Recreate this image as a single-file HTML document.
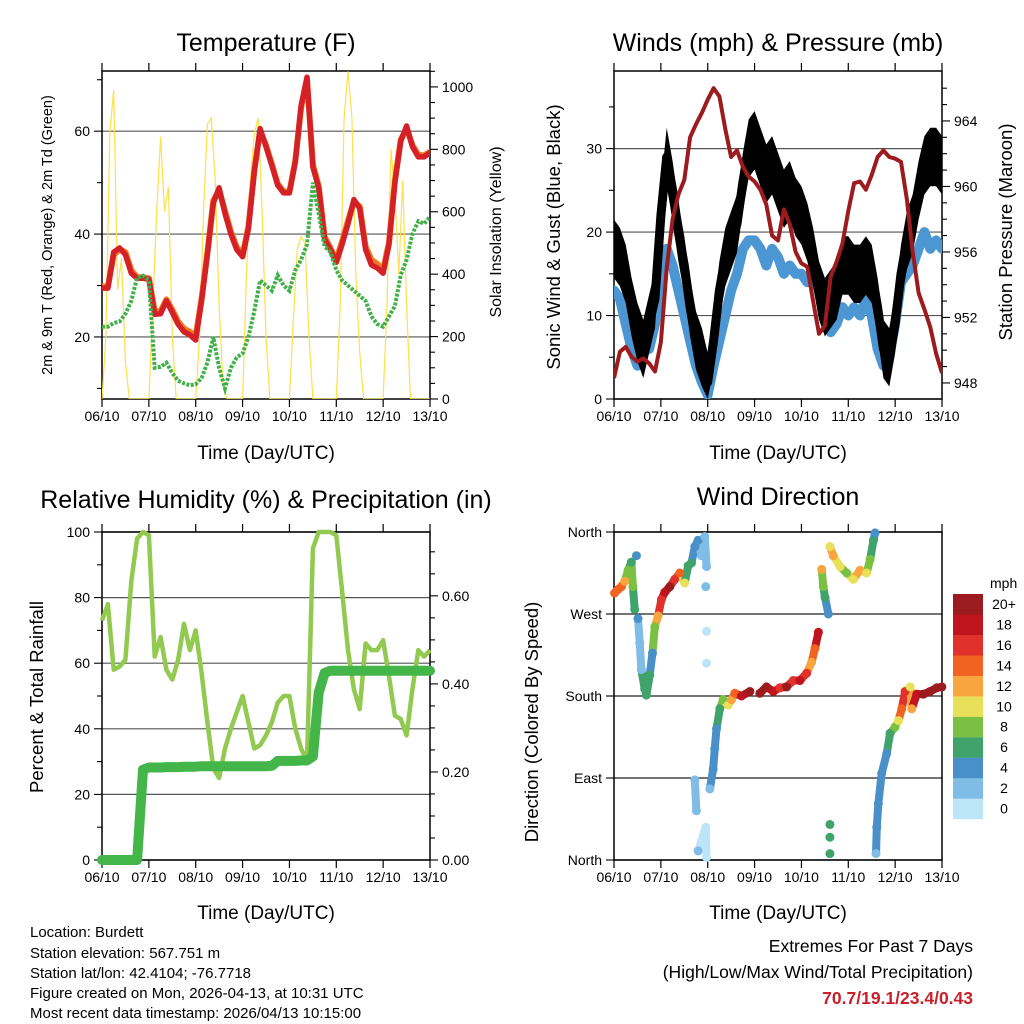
<!DOCTYPE html>
<html><head><meta charset="utf-8">
<style>
html,body{margin:0;padding:0;background:#fff;}
svg{display:block;font-family:"Liberation Sans",Arial,sans-serif;}
</style></head>
<body>
<svg id="fig" width="1024" height="1024" viewBox="0 0 1024 1024" xmlns="http://www.w3.org/2000/svg">
<rect x="0" y="0" width="1024" height="1024" fill="#fff"/>
<text x="266" y="51" font-size="25" text-anchor="middle">Temperature (F)</text>
<text x="778" y="51" font-size="25" text-anchor="middle">Winds (mph) &amp; Pressure (mb)</text>
<text x="266" y="508" font-size="25" text-anchor="middle">Relative Humidity (%) &amp; Precipitation (in)</text>
<text x="778" y="505" font-size="25" text-anchor="middle">Wind Direction</text>

<text x="266" y="459" font-size="19" text-anchor="middle">Time (Day/UTC)</text>
<text x="778" y="459" font-size="19" text-anchor="middle">Time (Day/UTC)</text>
<text x="266" y="919" font-size="19" text-anchor="middle">Time (Day/UTC)</text>
<text x="778" y="919" font-size="19" text-anchor="middle">Time (Day/UTC)</text>

<text transform="translate(48,235) rotate(-90)" font-size="14.5" text-anchor="middle" dominant-baseline="middle">2m &amp; 9m T (Red, Orange) &amp; 2m Td (Green)</text>
<text transform="translate(497,232) rotate(-90)" font-size="16" text-anchor="middle" dominant-baseline="middle">Solar Insolation (Yellow)</text>
<text transform="translate(555,237) rotate(-90)" font-size="18.5" text-anchor="middle" dominant-baseline="middle">Sonic Wind &amp; Gust (Blue, Black)</text>
<text transform="translate(1007,232) rotate(-90)" font-size="18.5" text-anchor="middle" dominant-baseline="middle">Station Pressure (Maroon)</text>
<text transform="translate(38,697) rotate(-90)" font-size="18.5" text-anchor="middle" dominant-baseline="middle">Percent &amp; Total Rainfall</text>
<text transform="translate(533,722) rotate(-90)" font-size="18.5" text-anchor="middle" dominant-baseline="middle">Direction (Colored By Speed)</text>

<g font-size="15">
<text x="30" y="937">Location: Burdett</text>
<text x="30" y="958">Station elevation: 567.751 m</text>
<text x="30" y="978">Station lat/lon: 42.4104; -76.7718</text>
<text x="30" y="998">Figure created on Mon, 2026-04-13, at 10:31 UTC</text>
<text x="30" y="1018">Most recent data timestamp: 2026/04/13 10:15:00</text>
</g>
<g font-size="17.5" text-anchor="end">
<text x="973" y="952">Extremes For Past 7 Days</text>
<text x="973" y="978">(High/Low/Max Wind/Total Precipitation)</text>
<text x="973" y="1004" fill="#c8202a" font-weight="bold">70.7/19.1/23.4/0.43</text>
</g>
</svg>
<script>
// ---- data (3-hourly unless noted) ----
const dayLabels = ["06/10","07/10","08/10","09/10","10/10","11/10","12/10","13/10"];
const temp2m = [29.5,29.5,36.5,37.3,36,32.4,31.4,31.4,31.2,24.4,24.5,27,24.8,22.5,21,20.4,19.4,27,36,46,49,44,40,37,35.6,41,52,60.5,57,53.3,49.5,48,48,54,65,70.5,53,49,39,37,34.5,38,42,46.7,45,37,34,33.4,32.4,38,50,58,61,57,55,55,55.8];
const temp9m = [29.8,29.8,36,37,36.5,33,31.6,31.6,31.4,25,25,27.3,25.3,23,21.6,21,20.2,27.5,36.5,46.5,48.5,44.5,40.5,37.5,36,41.5,52.5,60,57.3,53.6,49.8,48.3,48.2,54.3,64.5,70,53.5,49.3,39.5,37.3,35,38.6,42.6,46.2,45.4,37.6,35,34.2,33,38.4,50.4,58.3,60.6,57.3,55.4,55.3,56];
const dew2m = [22,22,22.7,23,24.5,27,31.5,31.9,31,14,14.2,15,13,11.5,11,10.6,10.8,12,15,20,14,10,14,16,16.8,20,25,31,30,29,32,30,29,33,35,38,50,44,37.6,36.5,33,31,30,29,28,27,24,22.5,22,24,26,32,35,40,42.5,42,43.4];
// solar, 2-hourly
const solar = [0,200,850,990,350,450,120,0,0,0,0,0, 0,300,600,840,600,680,200,0,0,0,0,0, 0,200,600,880,900,700,300,50,0,0,0,0, 0,400,700,850,900,600,200,0,0,0,0,0, 0,250,480,520,500,200,0,0,0,0,0,0, 0,300,900,1050,900,400,150,0,0,0,0,0, 0,300,800,650,400,700,300,0,0,0,0,0, 0];
const sonicWind = [13,12,9,6,4,6,6,9,15,18,16,13,10,7,4,2,0.5,4,7,10,13,15,18,19,19,18,16,18,17,15,16,15,15,14,15,13,10,8,9,11,10,11,10,12,10,6,4,5,9,14,15,16,18,20,18,19,18];
const gust = [18,17,15,11,8,6,9,12,22,29,25,20,16,11,7,5,2,7,13,17,19,21,26,30,31,29,27,28,26,24,25,23,22,20,17,13,11,12,13,16,16,15,15,16,15,11,6,5,9,15,19,21,25,28,29,29,28];
const pressure = [948.3,949.9,950.2,949.6,949.3,949.5,949.2,948.7,950.5,955,958,959.5,960.4,963,963.8,964.5,965.3,966,965.5,963.5,961.8,962.2,961.2,960.6,960.3,959.8,958.9,957,956.7,958.6,957.7,956,955.3,955.1,953,951,951.5,954.5,955.4,956.5,958.5,960.2,960.3,959.8,960.7,961.8,962.2,961.8,961.7,961.5,959.2,956,953.5,952.5,951.4,949.8,948.6];
const relHum = [73,78,58,59,61,85,98,100,99,62,68,58,55,61,72,64,70,57,42,28,25,34,40,45,50,42,34,35,38,42,48,50,50,40,34,30,95,100,100,100,99,82,64,52,46,66,64,64,67,56,44,43,38,52,64,62,64];
const precip = [0,0,0,0,0,0,0,0.205,0.21,0.21,0.21,0.211,0.211,0.211,0.212,0.212,0.212,0.213,0.213,0.213,0.213,0.213,0.213,0.213,0.213,0.213,0.213,0.213,0.213,0.214,0.225,0.225,0.225,0.225,0.226,0.226,0.235,0.38,0.425,0.43,0.43,0.43,0.43,0.43,0.43,0.43,0.43,0.43,0.43,0.43,0.43,0.43,0.43,0.43,0.43,0.43,0.43];
// wind direction scatter (hours since start, degrees, mph)
const dirHours = [0.3,2.1,3.8,5.5,7.2,8.9,9.7,10.6,11.5,12.3,13.2,14,15.7,16.6,18.3,19.7,20.9,22.6,24.3,26,28.6,31.1,33.7,36.2,38,39.7,41.4,43.1,44.8,46.5,47.4,47,47.4,47.4,41.4,42.2,43.1,47,47.4,49.1,50.8,51.6,52.5,54.2,55.9,58.5,60.2,61.9,65.3,69.6,74.7,78.1,81.6,85,88.4,91.8,95.2,98.7,101.2,102.9,104.7,106.4,107.2,108.1,109.8,110.6,112.3,115.8,119.2,122.6,126,129.4,131.2,132.9,133.7,110.6,110.6,110.6,134.2,134.6,135.4,137.1,139.7,141.4,144,145.7,147.4,149.1,151.7,152.5,155.1,158.5,161.9,165.4,167.9];
const dirDeg = [293,297,300,306,318,327,300,275,334,265,238,209,188,181,203,227,256,268,286,294,300,308,315,304,323,326,344,351,334,355,322,300,216,251,88,54,10,36,3,78,100,122,144,166,176,170,176,183,180,185,183,190,185,189,190,197,197,205,217,232,250,319,300,288,270,344,334,322,315,308,318,315,330,351,359,39,7,25,7,36,62,95,117,139,146,153,166,185,190,166,182,182,185,189,190];
const dirSpeed = [14,15,14,13,9,7,8,7,4,4,2,3,6,7,6,4,8,12,16,19,20,17,14,10,7,6,4,4,2,3,2,2,1,1,2,2,2,1,1,3,4,4,5,7,9,10,12,14,19,20,20,20,19,17,20,16,18,17,13,14,18,13,8,6,5,10,12,10,9,11,12,11,9,6,4,6,6,6,3,5,4,4,4,6,8,10,14,16,11,13,18,20,20,20,20];
const speedColors = ["#bde5f8","#7fbce6","#4a90c8","#3fa36b","#7ac143","#e8df5a","#f9a53f","#f26322","#e0322a","#c0151f","#9b1b1e"];
const speedLabels = ["0","2","4","6","8","10","12","14","16","18","20+"];

// ---- helpers ----
const NS = "http://www.w3.org/2000/svg";
const svg = document.getElementById('fig');
function mk(tag, attrs, parent){ const e=document.createElementNS(NS,tag); for(const k in attrs) e.setAttribute(k,attrs[k]); (parent||svg).appendChild(e); return e; }
function lin(d0,d1,r0,r1){ return v => r0 + (v-d0)/(d1-d0)*(r1-r0); }
const TOTAL_H = 168;

function frame(p, name){
  const g = mk('g',{});
  
  
  for(let d=0; d<=7; d++){
    const x = p.x0 + d*(p.x1-p.x0)/7;
    const t1 = mk('line',{x1:x,x2:x,y1:p.y1,y2:p.y1+8,stroke:'#000','stroke-width':1.2},g);
    
    
    mk('line',{x1:x,x2:x,y1:p.y0,y2:p.y0-8,stroke:'#000','stroke-width':1.2},g);
    const lb = mk('text',{x:x,y:p.y1+22,'font-size':14,'text-anchor':'middle'},g);
    lb.textContent = dayLabels[d];
    
    
  }
  return g;
}
function yAxis(g, p, side, min, max, step, labelEvery, fmt, grid){
  const sy = lin(p.ymin_s[side][0], p.ymin_s[side][1], p.y1, p.y0);
  const xa = side===0 ? p.x0 : p.x1;
  const dir = side===0 ? -1 : 1;
  const n = Math.round((max-min)/step);
  for(let i=0;i<=n;i++){
    const v = min + i*step;
    const y = sy(v);
    if(y < p.y0-0.5 || y > p.y1+0.5) continue;
    const major = (i % labelEvery)===0;
    mk('line',{x1:xa,x2:xa+dir*(major?8:5),y1:y,y2:y,stroke:'#000','stroke-width':1.1},g);
    if(major){
      if(grid) mk('line',{x1:p.x0,x2:p.x1,y1:y,y2:y,stroke:'#555','stroke-width':1.2},g);
      const t = mk('text',{x:xa+dir*12,y:y+5,'font-size':14,'text-anchor':side===0?'end':'start'},g);
      t.textContent = fmt(v);
      
      
    }
  }
}
function border(g,p){ mk('rect',{x:p.x0,y:p.y0,width:p.x1-p.x0,height:p.y1-p.y0,fill:'none',stroke:'#000','stroke-width':1.5},g); }
function pathFrom(vals, sx, sy, stepH){ return vals.map((v,i)=>(i?'L':'M')+sx(i*stepH).toFixed(1)+','+sy(v).toFixed(1)).join(' '); }

// ---- Panel 1: temperature ----
{
  const p = {x0:102,x1:430,y0:71,y1:399};
  p.ymin_s = [[7.94,71.7],[0,1051]];
  const sx = lin(0,TOTAL_H,p.x0,p.x1);
  const syT = lin(7.94,71.7,p.y1,p.y0);
  const syS = lin(0,1051,p.y1,p.y0);
  const g = frame(p,'temperature');
  yAxis(g,p,0,0,70,10,2,v=>String(v),true);
  yAxis(g,p,1,0,1050,50,4,v=>String(v),false);
  const cp = mk('clipPath',{id:'c1'}); mk('rect',{x:p.x0,y:p.y0,width:p.x1-p.x0,height:p.y1-p.y0},cp);
  const s = mk('g',{'clip-path':'url(#c1)'});
  const sl = mk('path',{d:pathFrom(solar,sx,syS,2),fill:'none',stroke:'#fde04a','stroke-width':1.2},s);
  
  
  const o = mk('path',{d:pathFrom(temp9m,sx,syT,3),fill:'none',stroke:'#f47a20','stroke-width':6,'stroke-linejoin':'round','stroke-linecap':'round'},s);
  
  
  const r = mk('path',{d:pathFrom(temp2m,sx,syT,3),fill:'none',stroke:'#d42027','stroke-width':5.5,'stroke-linejoin':'round','stroke-linecap':'round'},s);
  
  
  const gr = mk('path',{d:pathFrom(dew2m,sx,syT,3),fill:'none',stroke:'#42b048','stroke-width':4,'stroke-dasharray':'3 1.5'},s);
  
  
  border(g,p);
}
// ---- Panel 2: winds ----
{
  const p = {x0:614,x1:942,y0:71,y1:399};
  p.ymin_s = [[0,39.3],[947.02,967.05]];
  const sx = lin(0,TOTAL_H,p.x0,p.x1);
  const syW = lin(0,39.3,p.y1,p.y0);
  const syP = lin(947.02,967.05,p.y1,p.y0);
  const g = frame(p,'winds');
  yAxis(g,p,0,0,35,5,2,v=>String(v),true);
  yAxis(g,p,1,948,966,1,4,v=>String(v),false);
  const cp = mk('clipPath',{id:'c2'}); mk('rect',{x:p.x0,y:p.y0,width:p.x1-p.x0,height:p.y1-p.y0},cp);
  const s = mk('g',{'clip-path':'url(#c2)'});
  const b = mk('path',{d:pathFrom(sonicWind,sx,syW,3),fill:'none',stroke:'#4c97d3','stroke-width':10,'stroke-linejoin':'round','stroke-linecap':'round'},s);
  
  
  const hi = gust.map((v,i)=>sx(i*3).toFixed(1)+','+syW(v+3.5).toFixed(1));
  const lo = gust.map((v,i)=>sx(i*3).toFixed(1)+','+syW(Math.max(0,v-3.5)).toFixed(1)).reverse();
  const band = mk('polygon',{points:hi.concat(lo).join(' '),fill:'#000'},s);
  
  
  const k = mk('path',{d:pathFrom(gust,sx,syW,3),fill:'none',stroke:'#000','stroke-width':9,'stroke-linejoin':'round','stroke-linecap':'round'},s);
  
  
  const m = mk('path',{d:pathFrom(pressure,sx,syP,3),fill:'none',stroke:'#9b1b1e','stroke-width':4,'stroke-linejoin':'round'},s);
  
  
  border(g,p);
}
// ---- Panel 3: humidity ----
{
  const p = {x0:102,x1:430,y0:532,y1:860};
  p.ymin_s = [[0,100],[0,0.745]];
  const sx = lin(0,TOTAL_H,p.x0,p.x1);
  const syH = lin(0,100,p.y1,p.y0);
  const syR = lin(0,0.745,p.y1,p.y0);
  const g = frame(p,'humidity');
  yAxis(g,p,0,0,100,10,2,v=>String(v),true);
  yAxis(g,p,1,0,0.7,0.05,4,v=>v.toFixed(2),false);
  const s = mk('g',{});
  const h = mk('path',{d:pathFrom(relHum,sx,syH,3),fill:'none',stroke:'#92c950','stroke-width':4.5,'stroke-linejoin':'round'},s);
  
  
  const pr = mk('path',{d:pathFrom(precip,sx,syR,3),fill:'none',stroke:'#44b649','stroke-width':10,'stroke-linejoin':'round','stroke-linecap':'round'},s);
  
  
  border(g,p);
}
// ---- Panel 4: wind direction ----
{
  const p = {x0:614,x1:942,y0:532,y1:860};
  const sx = lin(0,TOTAL_H,p.x0,p.x1);
  const sy = lin(0,360,p.y1,p.y0);
  const g = frame(p,'direction');
  const names = ["North","East","South","West","North"];
  for(let i=0;i<5;i++){
    const y = sy(i*90);
    mk('line',{x1:p.x0-8,x2:p.x0,y1:y,y2:y,stroke:'#000','stroke-width':1.1},g);
    mk('line',{x1:p.x0,x2:p.x1,y1:y,y2:y,stroke:'#222','stroke-width':1.2},g);
    const t = mk('text',{x:p.x0-12,y:y+5,'font-size':14,'text-anchor':'end'},g);
    t.textContent = names[i];
    
    
  }
  const colorOf = v => speedColors[Math.min(10,Math.floor(v/2))];
  const s = mk('g',{});
  for(let i=1;i<dirHours.length;i++){
    const dt = dirHours[i]-dirHours[i-1], dd = Math.abs(dirDeg[i]-dirDeg[i-1]);
    if(dt>0 && dt<4.5 && dd<40){
      const ln = mk('line',{x1:sx(dirHours[i-1]),y1:sy(dirDeg[i-1]),x2:sx(dirHours[i]),y2:sy(dirDeg[i]),stroke:colorOf(dirSpeed[i]),'stroke-width':8,'stroke-linecap':'round'},s);
      
      
    }
  }
  dirHours.forEach((hh,i)=>{
    const c = mk('circle',{cx:sx(hh),cy:sy(dirDeg[i]),r:4.5,fill:colorOf(dirSpeed[i])},s);
    
    
  });
  border(g,p);
  const cb = mk('g',{});
  
  
  const t0 = mk('text',{x:990,y:588,'font-size':14},cb);
  t0.textContent='mph';
  for(let i=0;i<11;i++){
    const y = 594 + (10-i)*20.45;
    const r = mk('rect',{x:953,y:y,width:30,height:20.6,fill:speedColors[i]},cb);
    
    
    const t = mk('text',{x:1004,y:y+15,'font-size':14,'text-anchor':'middle'},cb);
    t.textContent = speedLabels[i];
    
    
  }
}
</script>
</body></html>
